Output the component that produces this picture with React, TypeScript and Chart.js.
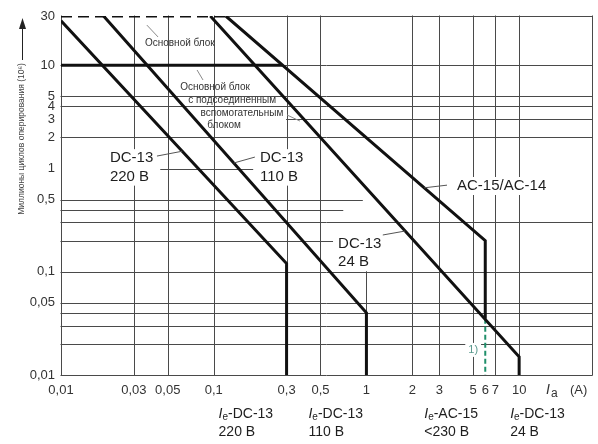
import React, { useEffect, useRef } from 'react';
import { Chart, registerables } from 'chart.js';

Chart.register(...registerables);

// ---------------- data ----------------
const xTickValues = [0.01, 0.03, 0.05, 0.1, 0.3, 0.5, 1, 2, 3, 5, 6, 7, 10];
const yTickValues = [0.01, 0.05, 0.1, 0.5, 1, 2, 3, 4, 5, 10, 30];

// curves [current A, million operating cycles]
const dc13_220 = [[0.01, 27], [0.3, 0.12], [0.3, 0.01]];
const dc13_110 = [[0.019, 30], [1, 0.04], [1, 0.01]];
const dc13_24 = [[0.095, 30], [10, 0.015], [10, 0.01]];
const ac15_ac14 = [[0.12, 30], [6, 0.2], [6, 0.035]];
const footnote1 = [[6, 0.035], [6, 0.01]];
const mainBlockLimit = [[0.01, 30], [0.12, 30]];
const auxBlockLimit = [[0.01, 10], [0.28, 10]];

// grid lines: vertical [x, yFrom, yTo], horizontal [y, xFrom, xTo]
const verticalGrid = [
  [0.01, 0.01, 30], [0.03, 0.01, 30], [0.05, 0.01, 30], [0.1, 0.01, 30],
  [0.3, 0.01, 30], [0.5, 0.01, 30], [1, 0.01, 0.1], [2, 0.01, 30],
  [3, 0.01, 30], [5, 0.01, 30], [7, 0.01, 30], [10, 0.01, 30], [30, 0.01, 30],
];
const horizontalGrid = [
  [30, 0.12, 30], [10, 0.01, 30], [5, 0.01, 30], [4, 0.01, 30], [3, 0.3, 30],
  [2, 0.01, 30], [1, 0.045, 0.18], [0.5, 0.01, 0.94], [0.4, 0.01, 0.7],
  [0.3, 0.01, 30], [0.2, 0.01, 0.6], [0.1, 0.01, 30], [0.05, 0.01, 30],
  [0.04, 0.01, 30], [0.03, 0.01, 30], [0.02, 0.01, 30], [0.01, 0.01, 30],
];

// curve labels: text lines, anchor [x, y] (left edge, first line centre)
const curveLabelTexts = [['DC-13', '220 В'], ['DC-13', '110 В'], ['DC-13', '24 В'], ['AC-15/AC-14']];
const curveLabelAnchors = [[0.0209, 1.26], [0.201, 1.26], [0.652, 0.188], [3.92, 0.677]];
// leaders: start [x, y] -> point on curve at given y
const curveLeaderStarts = [[0.0425, 1.32], [0.186, 1.29], [1.28, 0.227], [3.37, 0.69]];
const curveLeaderEndY = [1.47, 1.13, 0.248, 0.65];

// block notes (centred)
const blockNoteTexts = ['Основной блок', 'Основной блок', 'с подсоединенным', 'вспомогательным', 'блоком'];
const blockNoteAnchors = [[0.06, 16.4], [0.102, 6.15], [0.132, 4.6], [0.153, 3.45], [0.117, 2.64]];
const blockLeaders = [
  [[0.0365, 24.5], [0.0432, 18.8]],
  [[0.0778, 9.0], [0.0851, 7.2]],
  [[0.302, 3.3], [0.367, 2.88]],
];

// rated currents along the bottom
const ratedCurrents = [0.3, 1, 6, 10];
const ratedCategories = ['-DC-13', '-DC-13', '-AC-15', '-DC-13'];
const ratedVoltages = ['220 В', '110 В', '<230 В', '24 В'];

const FONT = '"Liberation Sans", Arial, Helvetica, sans-serif';
const fmt = (v: number) => String(v).replace('.', ',');

function xOnCurve(curve: number[][], yv: number) {
  const [x0, y0] = curve[0];
  const [x1, y1] = curve[1];
  const t = (Math.log10(yv) - Math.log10(y0)) / (Math.log10(y1) - Math.log10(y0));
  return Math.pow(10, Math.log10(x0) + t * (Math.log10(x1) - Math.log10(x0)));
}

const curvesForLeaders = [dc13_220, dc13_110, dc13_24, ac15_ac14];

const overlay = {
  id: 'overlay',
  beforeDraw(chart: any) {
    const { ctx, width, height } = chart;
    ctx.save();
    ctx.fillStyle = '#ffffff';
    ctx.fillRect(0, 0, width, height);
    ctx.restore();
  },
  beforeDatasetsDraw(chart: any) {
    const { ctx } = chart;
    const xs = chart.scales.x;
    const ys = chart.scales.y;
    ctx.save();
    ctx.strokeStyle = '#4a4a4a';
    ctx.lineWidth = 1;
    for (const [v, a, b] of verticalGrid) {
      const px = Math.round(xs.getPixelForValue(v)) + 0.5;
      ctx.beginPath();
      ctx.moveTo(px, ys.getPixelForValue(a) + 0.5);
      ctx.lineTo(px, ys.getPixelForValue(b) - 0.5);
      ctx.stroke();
    }
    for (const [v, a, b] of horizontalGrid) {
      const py = Math.round(ys.getPixelForValue(v)) + 0.5;
      ctx.beginPath();
      ctx.moveTo(xs.getPixelForValue(a) - 0.5, py);
      ctx.lineTo(xs.getPixelForValue(b) + 0.5, py);
      ctx.stroke();
    }
    // white backing behind curve labels
    ctx.fillStyle = '#ffffff';
    ctx.font = `15px ${FONT}`;
    curveLabelTexts.forEach((lines, i) => {
      const px = xs.getPixelForValue(curveLabelAnchors[i][0]);
      const py = ys.getPixelForValue(curveLabelAnchors[i][1]);
      const w = Math.max(...lines.map((l) => ctx.measureText(l).width));
      ctx.fillRect(px - 2, py - 9, w + 4, 18 + (lines.length - 1) * 18.5);
    });
    // backing behind footnote mark
    {
      ctx.font = `11px ${FONT}`;
      const px = xs.getPixelForValue(5);
      const py = ys.getPixelForValue(0.0175);
      const w = ctx.measureText('1)').width;
      ctx.fillRect(px - w / 2 - 3, py - 7, w + 6, 14);
    }
    ctx.restore();
  },
  afterDatasetsDraw(chart: any) {
    const { ctx, chartArea } = chart;
    const xs = chart.scales.x;
    const ys = chart.scales.y;
    ctx.save();
    ctx.textBaseline = 'middle';

    // curve labels
    ctx.fillStyle = '#1e1e1e';
    ctx.font = `15px ${FONT}`;
    ctx.textAlign = 'left';
    curveLabelTexts.forEach((lines, i) => {
      const px = xs.getPixelForValue(curveLabelAnchors[i][0]);
      const py = ys.getPixelForValue(curveLabelAnchors[i][1]);
      lines.forEach((l, k) => ctx.fillText(l, px, py + k * 18.5));
    });
    // curve leaders
    ctx.strokeStyle = '#555';
    ctx.lineWidth = 1;
    curveLeaderStarts.forEach((s, i) => {
      const ey = curveLeaderEndY[i];
      const ex = xOnCurve(curvesForLeaders[i], ey);
      ctx.beginPath();
      ctx.moveTo(xs.getPixelForValue(s[0]), ys.getPixelForValue(s[1]));
      ctx.lineTo(xs.getPixelForValue(ex), ys.getPixelForValue(ey));
      ctx.stroke();
    });

    // block notes
    ctx.fillStyle = '#333';
    ctx.font = `10px ${FONT}`;
    ctx.textAlign = 'center';
    blockNoteTexts.forEach((t, i) => {
      ctx.fillText(t, xs.getPixelForValue(blockNoteAnchors[i][0]), ys.getPixelForValue(blockNoteAnchors[i][1]));
    });
    ctx.strokeStyle = '#8a8a8a';
    blockLeaders.forEach(([a, b]) => {
      ctx.beginPath();
      ctx.moveTo(xs.getPixelForValue(a[0]), ys.getPixelForValue(a[1]));
      ctx.lineTo(xs.getPixelForValue(b[0]), ys.getPixelForValue(b[1]));
      ctx.stroke();
    });

    // footnote mark
    ctx.fillStyle = '#5b9a8e';
    ctx.font = `11px ${FONT}`;
    ctx.fillText('1)', xs.getPixelForValue(5), ys.getPixelForValue(0.0175));

    // x axis name  I_a (A)
    {
      const bx = xs.getPixelForValue(15);
      const by = chartArea.bottom + 15;
      ctx.textAlign = 'left';
      ctx.fillStyle = '#333';
      ctx.font = `italic 14px ${FONT}`;
      ctx.fillText('I', bx, by);
      const wI = ctx.measureText('I').width;
      ctx.font = `12px ${FONT}`;
      ctx.fillText('a', bx + wI + 1, by + 4);
      ctx.font = `13px ${FONT}`;
      ctx.fillText('(A)', bx + 24, by);
    }

    // rated current labels below axis
    const offsets = [-68, -58, -61, -9];
    ratedCurrents.forEach((c, i) => {
      let px = xs.getPixelForValue(c) + offsets[i];
      const y1 = chartArea.bottom + 39;
      const y2 = chartArea.bottom + 57;
      ctx.textAlign = 'left';
      ctx.fillStyle = '#1e1e1e';
      ctx.font = `italic 14px ${FONT}`;
      ctx.fillText('I', px, y1);
      let cx = px + ctx.measureText('I').width;
      ctx.font = `10px ${FONT}`;
      ctx.fillText('e', cx, y1 + 3);
      cx += ctx.measureText('e').width;
      ctx.font = `14px ${FONT}`;
      ctx.fillText(ratedCategories[i], cx, y1);
      ctx.fillText(ratedVoltages[i], px, y2);
    });

    // y axis title with arrow
    {
      const ax = 22;
      ctx.strokeStyle = '#222';
      ctx.fillStyle = '#222';
      ctx.lineWidth = 1;
      ctx.beginPath();
      ctx.moveTo(ax + 0.5, chartArea.top + 44);
      ctx.lineTo(ax + 0.5, chartArea.top + 10);
      ctx.stroke();
      ctx.beginPath();
      ctx.moveTo(ax + 0.5, chartArea.top + 2);
      ctx.lineTo(ax - 3, chartArea.top + 13);
      ctx.lineTo(ax + 4, chartArea.top + 13);
      ctx.closePath();
      ctx.fill();
      ctx.save();
      ctx.translate(ax, chartArea.top + 123);
      ctx.rotate(-Math.PI / 2);
      ctx.textAlign = 'center';
      ctx.fillStyle = '#444';
      ctx.font = `8.5px ${FONT}`;
      ctx.fillText('Миллионы циклов оперирования (10⁶)', 0, 0);
      ctx.restore();
    }
    ctx.restore();
  },
};

const toPts = (a: number[][]) => a.map(([x, y]) => ({ x, y }));

export default function App() {
  const ref = useRef<HTMLCanvasElement | null>(null);
  useEffect(() => {
    if (!ref.current) return;
    const thick = { borderColor: '#111', borderWidth: 3, pointRadius: 0, fill: false, tension: 0 };
    const chart = new Chart(ref.current, {
      type: 'line',
      data: {
        datasets: [
          { label: 'DC-13 220 В', data: toPts(dc13_220), ...thick },
          { label: 'DC-13 110 В', data: toPts(dc13_110), ...thick },
          { label: 'DC-13 24 В', data: toPts(dc13_24), ...thick },
          { label: 'AC-15/AC-14', data: toPts(ac15_ac14), ...thick },
          { label: 'Основной блок', data: toPts(mainBlockLimit), ...thick, borderDash: [11, 6] },
          { label: 'Основной блок с вспомогательным блоком', data: toPts(auxBlockLimit), ...thick },
          { label: '1)', data: toPts(footnote1), borderColor: '#1f8f6a', borderWidth: 2, borderDash: [5, 3], pointRadius: 0, fill: false },
        ],
      },
      options: {
        animation: false,
        responsive: false,
        devicePixelRatio: 1,
        layout: { padding: { top: 16, right: 6, bottom: 0, left: 0 } },
        plugins: { legend: { display: false }, tooltip: { enabled: false }, title: { display: false } },
        scales: {
          x: {
            type: 'logarithmic',
            min: 0.01,
            max: 30,
            afterBuildTicks: (s: any) => { s.ticks = xTickValues.map((v) => ({ value: v })); },
            afterFit: (s: any) => { s.height = 69; },
            grid: { display: false, drawTicks: false },
            border: { display: false },
            ticks: {
              autoSkip: false, maxRotation: 0, minRotation: 0, padding: 8, color: '#333',
              font: { family: FONT, size: 13 },
              callback: (v: any) => fmt(Number(v)),
            },
          },
          y: {
            type: 'logarithmic',
            min: 0.01,
            max: 30,
            afterBuildTicks: (s: any) => { s.ticks = yTickValues.map((v) => ({ value: v })); },
            afterFit: (s: any) => { s.width = 61; },
            grid: { display: false, drawTicks: false },
            border: { display: false },
            ticks: {
              autoSkip: false, padding: 6, color: '#333',
              font: { family: FONT, size: 13 },
              callback: (v: any) => fmt(Number(v)),
            },
          },
        },
      },
      plugins: [overlay],
    } as any);
    return () => chart.destroy();
  }, []);
  return (
    <div style={{ position: 'absolute', left: 0, top: 0, width: 598, height: 444, background: '#fff' }}>
      <canvas ref={ref} width={598} height={444} style={{ display: 'block' }} />
    </div>
  );
}
